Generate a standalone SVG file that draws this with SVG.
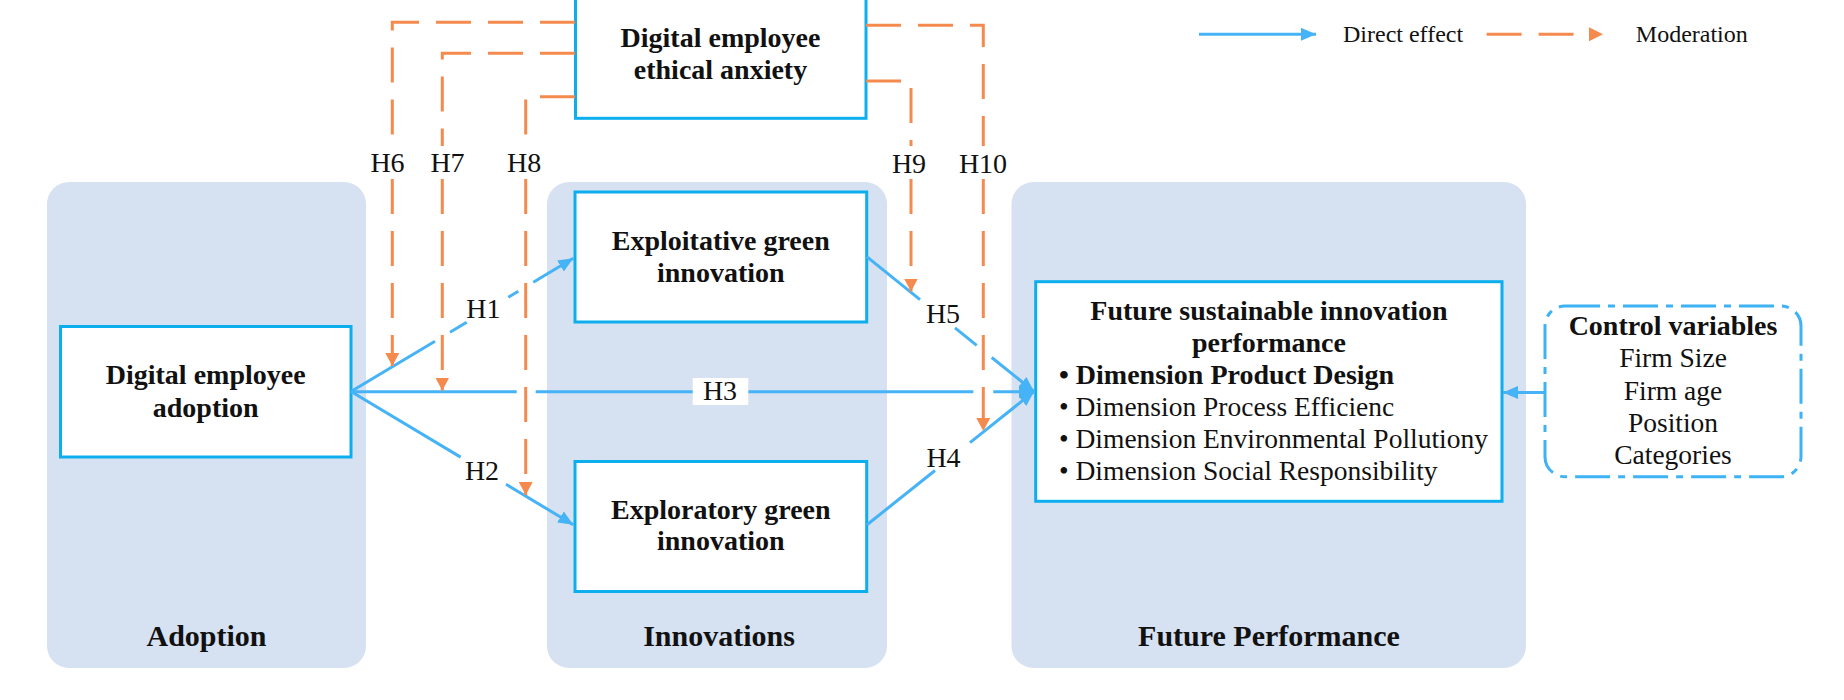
<svg xmlns="http://www.w3.org/2000/svg" width="1844" height="700" viewBox="0 0 1844 700">
<style>
.panel{fill:#D6E1F1;stroke:none}
.box{fill:#FFFFFF;stroke:#0DAEEE;stroke-width:3}
.ctrl{fill:#FFFFFF;stroke:#3DB2F4;stroke-width:3;stroke-dasharray:35 8 7 8}
.direct{fill:none;stroke:#45B3F5;stroke-width:3}
.moderation{fill:none;stroke:#F58A4E;stroke-width:3;stroke-dasharray:35 17}
text{font-family:"Liberation Serif","Times New Roman",serif;fill:#111111}
.b{font-weight:bold;font-size:28px}
.r{font-size:27.5px}
.pl{font-weight:bold;font-size:30px}
.h{font-size:28px;text-anchor:middle}
.lg{font-size:24px}
.m{text-anchor:middle}
</style>
<defs>
<marker id="blueArrow" markerUnits="userSpaceOnUse" markerWidth="15" markerHeight="13" refX="15" refY="6.5" orient="auto">
<path d="M0,0 L15,6.5 L0,13 z" fill="#45B3F5"/>
</marker>
<marker id="orangeArrow" markerUnits="userSpaceOnUse" markerWidth="13" markerHeight="14" refX="13" refY="7" orient="auto">
<path d="M0,0 L13,7 L0,14 z" fill="#F58A4E"/>
</marker>
</defs>
<rect width="1844" height="700" fill="#FFFFFF"/>

<g id="panel-adoption">
<rect class="panel" x="47" y="182" width="319" height="486" rx="22"/>
<text class="pl m" x="206.5" y="646">Adoption</text>
</g>
<g id="panel-innovations">
<rect class="panel" x="547" y="182" width="340" height="486" rx="22"/>
<text class="pl m" x="719" y="646">Innovations</text>
</g>
<g id="panel-future">
<rect class="panel" x="1011.5" y="182" width="514.5" height="486" rx="22"/>
<text class="pl m" x="1269" y="646">Future Performance</text>
</g>

<g id="node-anxiety">
<rect class="box" x="575.5" y="-10" width="290.5" height="128.3"/>
<text class="b m" x="720.5" y="46.7">Digital employee</text>
<text class="b m" x="720.5" y="79">ethical anxiety</text>
</g>
<g id="node-adoption">
<rect class="box" x="60.5" y="326.5" width="290.5" height="130.5"/>
<text class="b m" x="205.7" y="384">Digital employee</text>
<text class="b m" x="205.7" y="417">adoption</text>
</g>
<g id="node-exploitative">
<rect class="box" x="575" y="192" width="291.7" height="130"/>
<text class="b m" x="720.8" y="250">Exploitative green</text>
<text class="b m" x="720.8" y="282">innovation</text>
</g>
<g id="node-exploratory">
<rect class="box" x="575" y="461.5" width="291.7" height="130"/>
<text class="b m" x="720.8" y="519">Exploratory green</text>
<text class="b m" x="720.8" y="550">innovation</text>
</g>
<g id="node-future">
<rect class="box" x="1035.7" y="281.7" width="466.3" height="219.6"/>
<text class="b m" x="1269" y="319.5">Future sustainable innovation</text>
<text class="b m" x="1269" y="351.5">performance</text>
<text class="b" x="1059" y="384">• Dimension Product Design</text>
<text class="r" x="1059" y="416">• Dimension Process Efficienc</text>
<text class="r" x="1059" y="448">• Dimension Environmental Pollutiony</text>
<text class="r" x="1059" y="480">• Dimension Social Responsibility</text>
</g>
<g id="node-controls">
<rect class="ctrl" x="1545" y="306" width="256" height="170.7" rx="20"/>
<text class="b m" x="1673" y="335">Control variables</text>
<text class="r m" x="1673" y="367">Firm Size</text>
<text class="r m" x="1673" y="399.5">Firm age</text>
<text class="r m" x="1673" y="431.5">Position</text>
<text class="r m" x="1673" y="463.5">Categories</text>
</g>

<g id="connectors">
<path class="direct" d="M351,391.7 H516.7 M535.7,391.7 H973.3 M993.3,391.7 H1034" marker-end="url(#blueArrow)"/>
<path class="direct" d="M351,391.5 L435,341.2 M450,332.2 L466.7,322.2 M508.3,297.3 L518.3,291.3 M533.3,282.3 L573.3,258.3" marker-end="url(#blueArrow)"/>
<path class="direct" d="M351,391.5 L460.6,457.1 M506,484.3 L573.3,524.7" marker-end="url(#blueArrow)"/>
<path class="direct" d="M866.7,256.7 L920,299.7 M955,327.9 L976.7,345.4 M991.7,357.5 L1034,391.5" marker-end="url(#blueArrow)"/>
<path class="direct" d="M866.7,525 L935,470.5 M970,442.6 L1034,391.5" marker-end="url(#blueArrow)"/>
<path class="direct" d="M1545,392.5 H1503" marker-end="url(#blueArrow)"/>

<path class="moderation" d="M575,22.3 H392.3 V146 M392.3,179 V366" marker-end="url(#orangeArrow)"/>
<path class="moderation" d="M575,53.3 H442.3 V146 M442.3,179 V390.5" marker-end="url(#orangeArrow)"/>
<path class="moderation" d="M575,96.7 H525.7 V146 M525.7,179 V495" marker-end="url(#orangeArrow)"/>
<path class="moderation" d="M866,81 H911 V146 M911,179 V291.5" marker-end="url(#orangeArrow)"/>
<path class="moderation" d="M866,25.3 H983.3 V146 M983.3,179 V431" marker-end="url(#orangeArrow)"/>

<rect x="692.7" y="378" width="55.6" height="27" fill="#FFFFFF"/>
<text class="h" x="483.3" y="318.3">H1</text>
<text class="h" x="482" y="479.5">H2</text>
<text class="h" x="720" y="400">H3</text>
<text class="h" x="943.5" y="466.8">H4</text>
<text class="h" x="943" y="322.8">H5</text>
<text class="h" x="387.5" y="171.7">H6</text>
<text class="h" x="447.5" y="172">H7</text>
<text class="h" x="524.2" y="172">H8</text>
<text class="h" x="909" y="172.7">H9</text>
<text class="h" x="983" y="172.7">H10</text>
</g>

<g id="legend">
<path class="direct" d="M1199,34.3 H1316" marker-end="url(#blueArrow)"/>
<text class="lg" x="1343" y="42">Direct effect</text>
<path class="moderation" d="M1486.6,34.3 H1589"/>
<polygon points="1589,27.3 1603,34.3 1589,41.3" fill="#F58A4E"/>
<text class="lg" x="1635.8" y="42">Moderation</text>
</g>
</svg>
